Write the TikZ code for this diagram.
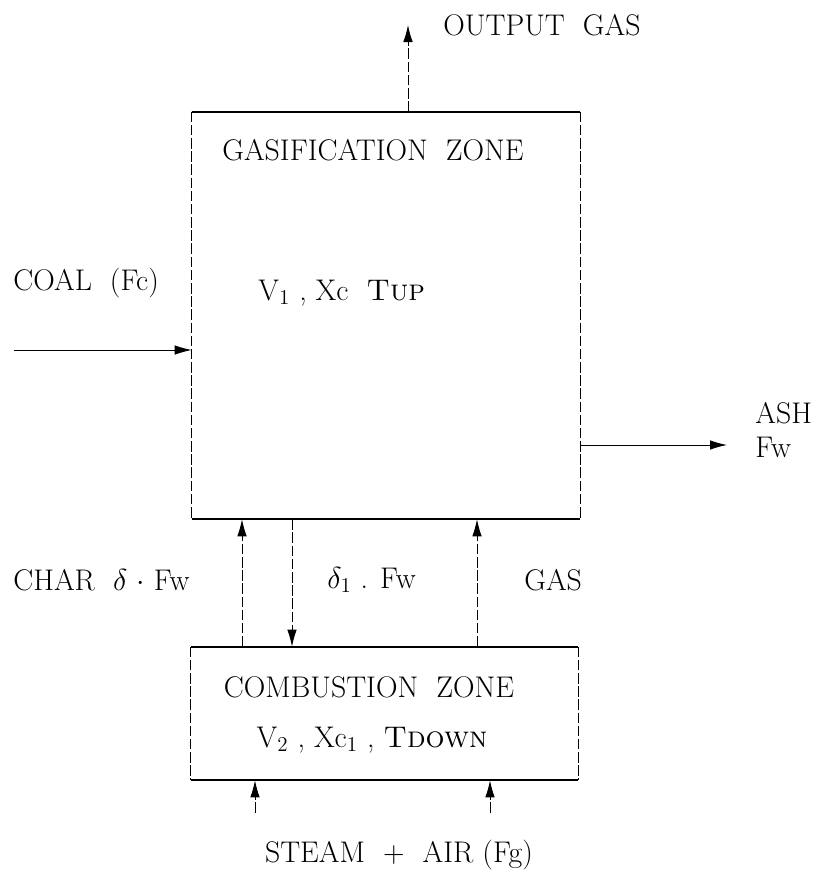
\documentclass[tikz,border=0pt]{standalone}
\usepackage{amsmath,amssymb}
\usepackage{xcolor}
\usepackage{tikz}
\usetikzlibrary{arrows.meta,positioning,calc}

\begin{document}
\begin{tikzpicture}[
  x=0.02cm, y=-0.02cm,
  zone/.style={inner sep=0pt},
  label/.style={inner sep=0pt, font=\fontsize{17}{20}\selectfont},
  edge/.style={line width=1.3pt},
  side/.style={line width=0.5pt, dash pattern=on 6pt off 1.5pt},
  flow/.style={-{Latex[length=3.4mm, width=1.9mm]}, line width=0.5pt, dash pattern=on 6pt off 1.5pt}
]
\useasboundingbox (0,0) rectangle (829,870);

\node[zone, minimum width=7.76cm, minimum height=8.14cm] (gasif) at (386,315.5) {};
\node[zone, minimum width=7.74cm, minimum height=2.66cm] (combus) at (384.5,713.5) {};
\draw[edge] (gasif.north west) -- (gasif.north east);
\draw[edge] (gasif.south west) -- (gasif.south east);
\draw[side] (gasif.north west) -- (gasif.south west);
\draw[side] (gasif.north east) -- (gasif.south east);
\draw[edge] (combus.north west) -- (combus.north east);
\draw[edge] (combus.south west) -- (combus.south east);
\draw[side] (combus.north west) -- (combus.south west);
\draw[side] (combus.north east) -- (combus.south east);

\node[label] (gasiftitle) at (373,150) {GASIFICATION \ ZONE};
\node[label, anchor=west] (gasifvars) at (258,293) {V$_1$ , Xc \ \textsc{Tup}};
\node[label] (combustitle) at (369,687) {COMBUSTION \ ZONE};
\node[label] (combusvars) at (372,740) {V$_2$ , Xc$_1$ , \textsc{Tdown}};

\node[label, anchor=west] (outgas) at (443,25) {OUTPUT \ GAS};
\node[label, anchor=west] (coal) at (13,283) {COAL \ (Fc)};
\node[label, anchor=west] (ash) at (755,413) {ASH};
\node[label, anchor=west] (ashfw) at (755,447) {Fw};
\node[label, anchor=west] (char) at (13,580) {CHAR \ $\delta$ $\cdot$ Fw};
\node[label, anchor=west] (delta) at (327,580) {$\delta_1$ . Fw};
\node[label, anchor=west] (gas) at (524,580) {GAS};
\node[label] (steam) at (399,855) {STEAM \ + \ AIR (Fg)};

\coordinate (outtip) at (408,25);
\coordinate (coalin) at (14,350);
\coordinate (ashout) at (727,445);
\coordinate (charx) at (242,0);
\coordinate (deltax) at (292,0);
\coordinate (gasx) at (477,0);
\coordinate (steamL) at (255,813);
\coordinate (steamR) at (490,813);

\draw[flow] (outtip |- gasif.north) -- (outtip);
\draw[flow, solid] (coalin) -- (coalin -| gasif.west);
\draw[flow, solid] (ashout -| gasif.east) -- (ashout);
\draw[flow] (charx |- combus.north) -- (charx |- gasif.south);
\draw[flow] (deltax |- gasif.south) -- (deltax |- combus.north);
\draw[flow] (gasx |- combus.north) -- (gasx |- gasif.south);
\draw[flow] (steamL) -- (steamL |- combus.south);
\draw[flow] (steamR) -- (steamR |- combus.south);
\end{tikzpicture}
\end{document}
